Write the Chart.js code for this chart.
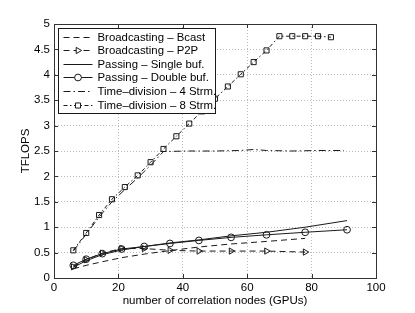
<!DOCTYPE html>
<html>
<head>
<meta charset="utf-8">
<script src="https://cdn.jsdelivr.net/npm/chart.js@4.4.1/dist/chart.umd.min.js"></script>
<style>
  html, body { margin: 0; padding: 0; background: #fff; }
</style>
</head>
<body>
<canvas id="tflopsChart" width="415" height="313"></canvas>
<script>
// data
const bcastX = [6, 10, 15, 21, 28, 36, 45, 55, 66, 78];
const bcastY = [0.18, 0.25, 0.32, 0.40, 0.47, 0.54, 0.61, 0.67, 0.72, 0.78];

const p2pX = [6, 10, 15, 21, 28, 36, 45, 55, 66, 78];
const p2pY = [0.22, 0.36, 0.49, 0.58, 0.58, 0.545, 0.53, 0.53, 0.53, 0.51];

const singleX = [6, 10, 15, 21, 28, 36, 45, 55, 66, 78, 91];
const singleY = [0.21, 0.34, 0.46, 0.55, 0.62, 0.69, 0.75, 0.83, 0.90, 1.00, 1.13];

const doubleX = [6, 10, 15, 21, 28, 36, 45, 55, 66, 78, 91];
const doubleY = [0.25, 0.37, 0.48, 0.57, 0.62, 0.68, 0.74, 0.80, 0.85, 0.90, 0.95];

const strm4X = [6, 10, 14, 18, 22, 26, 30, 34, 42, 50, 58, 62, 66, 74, 82, 90];
const strm4Y = [0.53, 0.86, 1.20, 1.50, 1.74, 1.97, 2.22, 2.49, 2.50, 2.50, 2.51, 2.53, 2.51, 2.50, 2.51, 2.51];

const strm8X = [6, 10, 14, 18, 22, 26, 30, 34, 38, 42, 46, 50, 54, 58, 62, 66, 70, 74, 78, 82, 86];
const strm8Y = [0.545, 0.886, 1.24, 1.55, 1.79, 2.02, 2.28, 2.54, 2.79, 3.04, 3.28, 3.53, 3.77, 4.01, 4.25, 4.48, 4.76, 4.76, 4.76, 4.76, 4.74];

const labels = [
  'Broadcasting \u2013 Bcast',
  'Broadcasting \u2013 P2P',
  'Passing \u2013 Single buf.',
  'Passing \u2013 Double buf.',
  'Time\u2013division \u2013 4 Strm.',
  'Time\u2013division \u2013 8 Strm.'
];

const xTicks = [0, 20, 40, 60, 80, 100];
const yTicks = [0, 0.5, 1, 1.5, 2, 2.5, 3, 3.5, 4, 4.5, 5];

const FONT = '"Liberation Sans", Arial, sans-serif';
const INK = '#1a1a1a';

const toPoints = (xs, ys) => xs.map((x, i) => ({ x: x, y: ys[i] }));

function series(label, xs, ys, dash, pointStyle, extra) {
  return Object.assign({
    label: label,
    data: toPoints(xs, ys),
    borderColor: INK,
    borderWidth: 1,
    borderDash: dash,
    backgroundColor: 'rgba(0,0,0,0)',
    pointStyle: pointStyle || false,
    pointRadius: pointStyle ? 3.6 : 0,
    pointBorderColor: INK,
    pointBorderWidth: 1,
    pointBackgroundColor: 'rgba(0,0,0,0)',
    tension: 0,
    fill: false
  }, extra || {});
}

const datasets = [
  series(labels[0], bcastX, bcastY, [6, 4]),
  series(labels[1], p2pX, p2pY, [6, 4], 'triangle', { pointRotation: 90 }),
  series(labels[2], singleX, singleY, []),
  series(labels[3], doubleX, doubleY, [], 'circle', { pointRadius: 3.4 }),
  series(labels[4], strm4X, strm4Y, [7, 3, 1.5, 3]),
  series(labels[5], strm8X, strm8Y, [4, 2.5, 1.5, 2.5], 'rect')
];

// box around the plot with inward ticks on all sides
const frame = {
  id: 'frame',
  afterDraw(chart) {
    const { ctx, chartArea: a, scales } = chart;
    ctx.save();
    ctx.strokeStyle = '#333';
    ctx.lineWidth = 1;
    ctx.setLineDash([]);
    ctx.strokeRect(Math.round(a.left) + 0.5, Math.round(a.top) + 0.5,
      Math.round(a.right - a.left), Math.round(a.bottom - a.top));
    ctx.beginPath();
    xTicks.forEach(v => {
      const px = Math.round(scales.x.getPixelForValue(v)) + 0.5;
      ctx.moveTo(px, a.bottom); ctx.lineTo(px, a.bottom - 4);
      ctx.moveTo(px, a.top); ctx.lineTo(px, a.top + 4);
    });
    yTicks.forEach(v => {
      const py = Math.round(scales.y.getPixelForValue(v)) + 0.5;
      ctx.moveTo(a.left, py); ctx.lineTo(a.left + 4, py);
      ctx.moveTo(a.right, py); ctx.lineTo(a.right - 4, py);
    });
    ctx.stroke();
    ctx.restore();
  }
};

// MATLAB-like legend in the upper left corner
const legendBox = {
  id: 'legendBox',
  afterDraw(chart) {
    const { ctx, chartArea: a } = chart;
    const x0 = Math.round(a.left) + 4.5, y0 = Math.round(a.top) + 4.5;
    const w = 157, h = 85, row = 13.6;
    ctx.save();
    ctx.fillStyle = '#fff';
    ctx.fillRect(x0, y0, w, h);
    ctx.strokeStyle = INK;
    ctx.lineWidth = 1;
    ctx.strokeRect(x0, y0, w, h);
    chart.data.datasets.forEach((ds, i) => {
      const cy = Math.round(y0 + 8 + i * row) + 0.5;
      ctx.strokeStyle = INK;
      ctx.lineWidth = 1;
      ctx.setLineDash(ds.borderDash || []);
      ctx.beginPath();
      ctx.moveTo(x0 + 5, cy);
      ctx.lineTo(x0 + 34, cy);
      ctx.stroke();
      ctx.setLineDash([]);
      if (ds.pointStyle) {
        ctx.fillStyle = '#fff';
        Chart.helpers.drawPoint(ctx, {
          pointStyle: ds.pointStyle,
          radius: ds.pointRadius,
          rotation: ds.pointRotation || 0,
          borderWidth: 1
        }, x0 + 19.5, cy);
      }
      ctx.fillStyle = '#000';
      ctx.font = '11.4px ' + FONT;
      ctx.textBaseline = 'middle';
      ctx.textAlign = 'left';
      ctx.fillText(ds.label, x0 + 39, cy);
    });
    ctx.restore();
  }
};

const ctx = document.getElementById('tflopsChart').getContext('2d');
const tflopsChart = new Chart(ctx, {
  type: 'line',
  data: { datasets: datasets },
  plugins: [frame, legendBox],
  options: {
    responsive: false,
    animation: false,
    devicePixelRatio: 1,
    layout: { padding: { left: 16, top: 24, right: 39, bottom: 2 } },
    plugins: {
      legend: { display: false },
      tooltip: { enabled: false }
    },
    scales: {
      x: {
        type: 'linear',
        min: 0,
        max: 100,
        afterFit: s => { s.height = 33; },
        afterBuildTicks: s => { s.ticks = xTicks.map(v => ({ value: v })); },
        ticks: { color: '#000', font: { size: 11.5, family: FONT }, padding: 3, maxRotation: 0 },
        grid: { color: '#bbb', drawTicks: false },
        border: { display: true, color: '#333', dash: [1, 2] },
        title: {
          display: true,
          text: 'number of correlation nodes (GPUs)',
          color: '#000',
          font: { size: 11.5, family: FONT },
          padding: { top: 4, bottom: 3 }
        }
      },
      y: {
        min: 0,
        max: 5,
        afterFit: s => { s.width = 38; },
        afterBuildTicks: s => { s.ticks = yTicks.map(v => ({ value: v })); },
        ticks: {
          color: '#000',
          font: { size: 11.5, family: FONT },
          padding: 4,
          callback: v => String(v)
        },
        grid: { color: '#bbb', drawTicks: false },
        border: { display: true, color: '#333', dash: [1, 2] },
        title: {
          display: true,
          text: 'TFLOPS',
          color: '#000',
          font: { size: 11.5, family: FONT },
          padding: { top: 3, bottom: 3 }
        }
      }
    }
  }
});
</script>
</body>
</html>
